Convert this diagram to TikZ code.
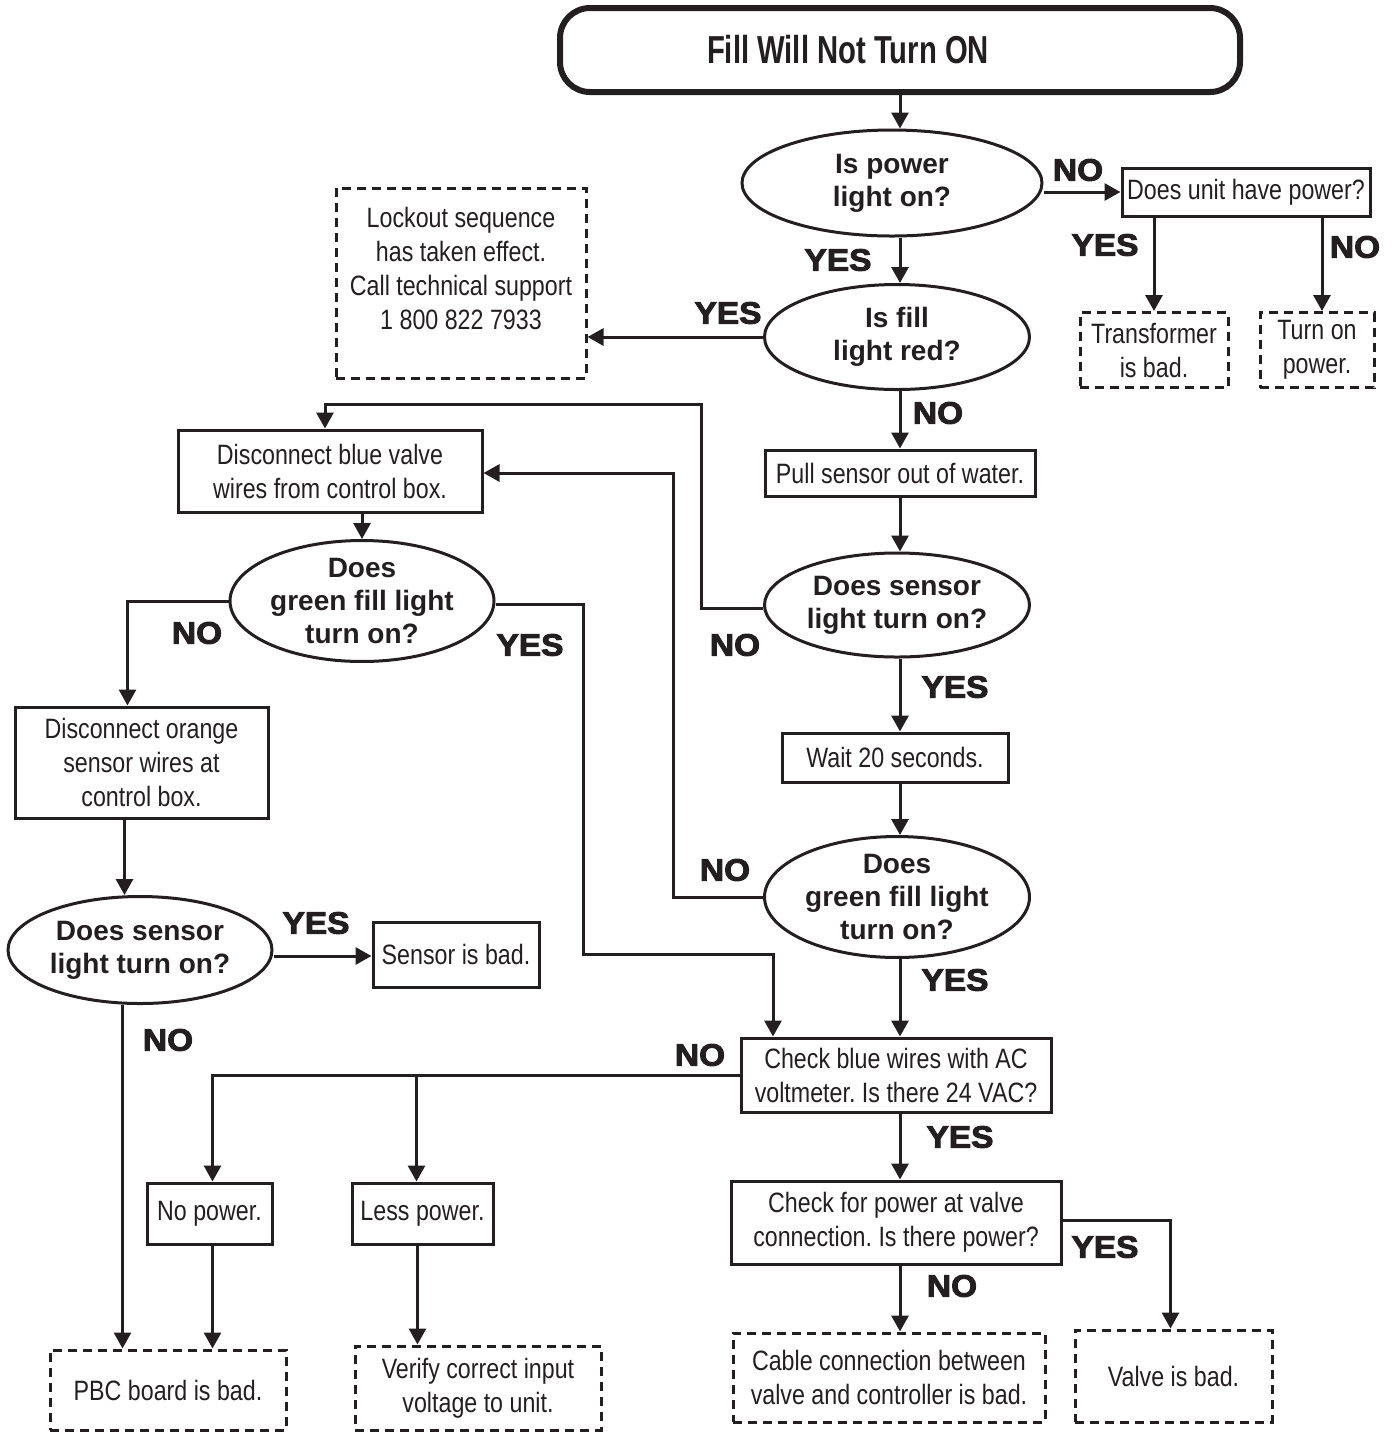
\documentclass[tikz,border=0pt]{standalone}
\usepackage{fontspec}
\setmainfont{Liberation Sans}
\newfontfamily\condfont{Liberation Sans}[FakeStretch=0.83]
\newfontfamily\titlefont{Liberation Sans}[FakeStretch=0.75]
\newfontfamily\heavyfont{Liberation Sans}[FakeBold=3,FakeStretch=1.08]
\usetikzlibrary{shapes.geometric,arrows.meta,calc}
\definecolor{ink}{RGB}{35,31,32}
\frenchspacing
\tikzset{
  box/.style={draw, line width=1.5pt, inner sep=0pt, align=center, font=\condfont\fontsize{14}{17}\selectfont},
  dbox/.style={box, dash pattern=on 4.5pt off 3pt},
  dec/.style={draw, ellipse, line width=1.5pt, inner sep=0pt, align=center, font=\bfseries\fontsize{14}{16.5}\selectfont},
  lab/.style={inner sep=0pt, font=\heavyfont\bfseries\fontsize{15.5}{16}\selectfont},
  txt/.style={inner sep=0pt, align=center, font=\condfont\fontsize{14}{17}\selectfont},
  arr/.style={line width=1.5pt, -{Triangle[width=8.5pt,length=8pt]}},
}
\begin{document}
\begin{tikzpicture}[x=0.5pt, y=-0.5pt, color=ink, text=ink]
\useasboundingbox (0,0) rectangle (1395,1432);

% title
\node[draw, line width=3pt, rounded corners=15pt, minimum width=340pt, minimum height=42pt, inner sep=0pt] (title) at (900,50) {};
\node[inner sep=0pt, font=\titlefont\bfseries\fontsize{19.5}{20}\selectfont] (titletext) at (848,50) {Fill Will Not Turn ON};

% decisions
\node[dec, minimum width=150pt, minimum height=53pt] (e1) at (892,183) {Is power\\light on?};
\node[dec, minimum width=132.5pt, minimum height=52.5pt] (e2) at (897,337) {Is fill\\light red?};
\node[dec, minimum width=132.5pt, minimum height=52pt] (e3) at (897,605) {Does sensor\\light turn on?};
\node[dec, minimum width=132.5pt, minimum height=52.5pt] (e4) at (897,897) {Does\\green fill light\\turn on?};
\node[dec, minimum width=132pt, minimum height=53.5pt] (e5) at (362,601) {Does\\green fill light\\turn on?};
\node[dec, minimum width=132pt, minimum height=53.5pt] (e6) at (140,950) {Does sensor\\light turn on?};

% boxes
\node[dbox, minimum width=125pt, minimum height=95pt] (lockout) at (461,283) {};
\node[txt] (lockouttext) at (461,268) {Lockout sequence\\has taken effect.\\Call technical support\\1 800 822 7933};
\node[box, minimum width=124pt, minimum height=24pt] (q1) at (1246,192) {Does unit have power?};
\node[dbox, minimum width=74pt, minimum height=37.5pt] (t1) at (1154,350) {Transformer\\is bad.};
\node[dbox, minimum width=57pt, minimum height=37.5pt] (p1) at (1317,350) {Turn on\\power.};
\node[box, minimum width=135pt, minimum height=23pt] (pull) at (900,473) {Pull sensor out of water.};
\node[box, minimum width=152pt, minimum height=41pt] (blue) at (330,471) {Disconnect blue valve\\wires from control box.};
\node[box, minimum width=126.5pt, minimum height=55.5pt] (orange) at (141.5,762.5) {Disconnect orange\\sensor wires at\\control box.};
\node[box, minimum width=83pt, minimum height=32.5pt] (sensor) at (456,954.5) {Sensor is bad.};
\node[box, minimum width=113pt, minimum height=24.5pt] (wait) at (895,757.5) {Wait 20 seconds.};
\node[box, minimum width=155pt, minimum height=37pt] (check) at (896,1075) {Check blue wires with AC\\voltmeter. Is there 24 VAC?};
\node[box, minimum width=62.5pt, minimum height=30.5pt] (nopow) at (209.5,1213.5) {No power.};
\node[box, minimum width=70.5pt, minimum height=30.5pt] (less) at (422.5,1213.5) {Less power.};
\node[box, minimum width=165pt, minimum height=41.5pt] (power) at (896,1222.5) {Check for power at valve\\connection. Is there power?};
\node[dbox, minimum width=118pt, minimum height=40pt] (pbc) at (168,1390) {PBC board is bad.};
\node[dbox, minimum width=123pt, minimum height=42pt] (verify) at (478,1388) {Verify correct input\\voltage to unit.};
\node[dbox, minimum width=156pt, minimum height=44.5pt] (cable) at (889,1377.5) {Cable connection between\\valve and controller is bad.};
\node[dbox, minimum width=98.5pt, minimum height=46pt] (valve) at (1173.5,1376) {Valve is bad.};

% helper coordinates
\coordinate (j1) at ([xshift=-61.5pt, yshift=41pt]check.north);
\coordinate (xo) at ([xshift=-8.5pt]orange.south);

% connectors
\draw[arr] (title.south) -- (title.south |- e1.north);
\draw[arr] (q1.west -| e1.east) -- (q1.west);
\draw[arr] (t1.north |- q1.south) -- (t1.north);
\draw[arr] ([xshift=2.5pt]p1.north |- q1.south) -- ([xshift=2.5pt]p1.north);
\draw[arr] ([xshift=1.5pt]e2.north |- e1.south) -- ([xshift=1.5pt]e2.north);
\draw[arr] (e2.west) -- (e2.west -| lockout.east);
\draw[arr] ([xshift=1.5pt]e2.south) -- ([xshift=1.5pt]e2.south |- pull.north);
\draw[arr] ([xshift=1.5pt]e3.north |- pull.south) -- ([xshift=1.5pt]e3.north);
\draw[arr] ([yshift=-1.5pt]e3.west) -- ++(-62,0) |- ([xshift=-2.5pt, yshift=12pt]blue.north) -- ([xshift=-2.5pt]blue.north);
\draw[arr] (e4.west) -- ++(-90,0) |- ([yshift=-1pt]blue.east);
\draw[arr] (e5.north |- blue.south) -- (e5.north);
\draw[arr] (e5.west) -| ([xshift=-7pt]orange.north);
\draw[arr] ([yshift=-1.5pt]e5.east) -- ++(88,0) |- (j1) -- (j1 |- check.north);
\draw[arr] ([xshift=1.5pt]e3.south) -- ([xshift=1.5pt]e3.south |- wait.north);
\draw[arr] ([xshift=2.5pt]wait.south) -- ([xshift=2.5pt]wait.south |- e4.north);
\draw[arr] ([xshift=1.5pt]e4.south) -- ([xshift=1.5pt]e4.south |- check.north);
\draw[arr] (check.west) -| ([xshift=1.5pt]nopow.north);
\draw[arr] ([xshift=-3pt]less.north |- check.west) -- ([xshift=-3pt]less.north);
\draw[arr] ([xshift=2pt]check.south) -- ([xshift=2pt]check.south |- power.north);
\draw[arr] ([xshift=2pt]power.south) -- ([xshift=2pt]power.south |- cable.north);
\draw[arr] ([yshift=1pt]power.east) -| ([xshift=-1.5pt]valve.north);
\draw[arr] ([xshift=1.5pt]nopow.south) -- ([xshift=1.5pt]nopow.south |- pbc.north);
\draw[arr] ([xshift=-2.5pt]less.south) -- ([xshift=-2.5pt]less.south |- verify.north);
\draw[arr] (xo) -- (xo |- e6.north);
\draw[arr] ([xshift=-1pt]xo |- e6.south) -- ([xshift=-1pt]xo |- pbc.north);
\draw[arr] ([yshift=-3pt]e6.east) -- ([yshift=-3pt]e6.east -| sensor.west);

% labels
\node[lab] (l1) at (1078,170) {NO};
\node[lab] (l2) at (838,260) {YES};
\node[lab] (l3) at (728,313) {YES};
\node[lab] (l4) at (1105,245) {YES};
\node[lab] (l5) at (1355,247) {NO};
\node[lab] (l6) at (938,413) {NO};
\node[lab] (l7) at (735,645) {NO};
\node[lab] (l8) at (955,687) {YES};
\node[lab] (l9) at (197,633) {NO};
\node[lab] (l10) at (530,645) {YES};
\node[lab] (l11) at (725,870) {NO};
\node[lab] (l12) at (955,980) {YES};
\node[lab] (l13) at (316,923) {YES};
\node[lab] (l14) at (168,1040) {NO};
\node[lab] (l15) at (700,1055) {NO};
\node[lab] (l16) at (960,1137) {YES};
\node[lab] (l17) at (1105,1247) {YES};
\node[lab] (l18) at (952,1286) {NO};
\end{tikzpicture}
\end{document}
